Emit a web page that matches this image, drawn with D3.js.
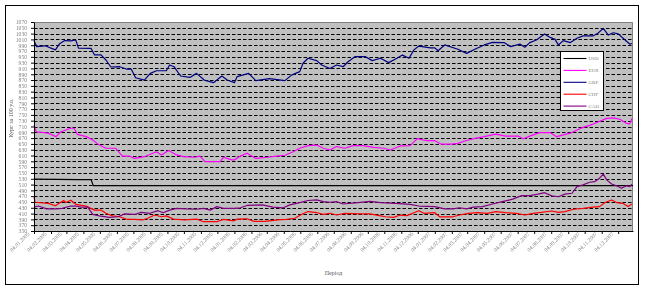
<!DOCTYPE html>
<html>
<head>
<meta charset="utf-8">
<script src="https://cdn.jsdelivr.net/npm/d3@7"></script>
<style>
  body { margin: 0; background: #fff; }
  text { font-family: "Liberation Serif", "Times New Roman", serif; }
  .gray-text { opacity: 0.99; }
</style>
</head>
<body>
<svg id="chart" width="645" height="290"></svg>
<script>
// Rates per 100 units (date, value)
const usd = [
  ["2005-01-04", 529], ["2005-03-25", 527], ["2005-04-18", 527], ["2005-04-22", 506],
  ["2007-12-31", 506]
];
const eur = [
  ["2005-01-04", 714], ["2005-01-08", 692], ["2005-01-30", 687], ["2005-02-13", 675], ["2005-02-22", 692],
  ["2005-03-12", 704], ["2005-03-18", 704], ["2005-03-24", 683], ["2005-04-09", 675], ["2005-04-21", 664],
  ["2005-04-30", 650], ["2005-05-15", 635], ["2005-06-02", 635], ["2005-06-14", 608], ["2005-06-27", 608],
  ["2005-07-06", 600], ["2005-07-24", 606], ["2005-08-15", 623], ["2005-08-24", 612], ["2005-09-06", 627],
  ["2005-09-21", 612], ["2005-10-03", 606], ["2005-10-24", 604], ["2005-11-02", 608], ["2005-11-12", 589],
  ["2005-12-09", 589], ["2005-12-15", 604], ["2005-12-30", 595],
  ["2006-01-04", 595], ["2006-01-15", 608], ["2006-01-27", 618], ["2006-02-12", 600], ["2006-03-06", 604],
  ["2006-03-21", 608], ["2006-04-06", 611], ["2006-04-21", 623], ["2006-05-03", 635], ["2006-05-18", 644],
  ["2006-06-03", 646], ["2006-06-15", 635], ["2006-06-27", 629], ["2006-07-09", 641], ["2006-07-24", 635],
  ["2006-08-08", 644], ["2006-08-26", 644], ["2006-09-15", 638], ["2006-10-03", 635], ["2006-10-15", 629],
  ["2006-11-02", 643], ["2006-11-20", 644], ["2006-12-03", 668], ["2006-12-21", 661],
  ["2007-01-04", 661], ["2007-01-16", 649], ["2007-02-03", 649], ["2007-02-15", 652], ["2007-03-01", 661],
  ["2007-03-18", 669], ["2007-04-04", 675], ["2007-04-25", 684], ["2007-05-13", 677], ["2007-06-05", 677],
  ["2007-06-14", 668], ["2007-06-26", 677], ["2007-07-14", 689], ["2007-08-02", 689], ["2007-08-14", 675],
  ["2007-08-26", 681], ["2007-09-08", 687], ["2007-09-20", 698], ["2007-10-01", 707], ["2007-10-13", 714],
  ["2007-10-25", 723], ["2007-11-13", 738], ["2007-11-25", 740], ["2007-12-07", 735], ["2007-12-19", 721],
  ["2007-12-25", 719], ["2007-12-29", 738]
];
const gbp = [
  ["2005-01-04", 1005], ["2005-01-09", 985], ["2005-01-24", 988], ["2005-02-12", 974], ["2005-02-19", 994],
  ["2005-03-01", 1006], ["2005-03-12", 1005], ["2005-03-21", 1008], ["2005-03-26", 980], ["2005-04-18", 979],
  ["2005-04-24", 957], ["2005-05-06", 957], ["2005-05-15", 939], ["2005-05-24", 915], ["2005-06-09", 916],
  ["2005-06-21", 908], ["2005-06-30", 908], ["2005-07-08", 878], ["2005-07-24", 870], ["2005-08-04", 893],
  ["2005-08-15", 902], ["2005-09-02", 902], ["2005-09-08", 922], ["2005-09-16", 916], ["2005-09-28", 884],
  ["2005-10-15", 879], ["2005-10-27", 893], ["2005-11-10", 870], ["2005-11-27", 861], ["2005-12-12", 884],
  ["2005-12-22", 870], ["2006-01-04", 861],
  ["2006-01-09", 882], ["2006-01-30", 893], ["2006-02-12", 868], ["2006-03-09", 875], ["2006-04-06", 868],
  ["2006-04-18", 887], ["2006-05-03", 899], ["2006-05-09", 928], ["2006-05-18", 945], ["2006-06-03", 937],
  ["2006-06-12", 922], ["2006-06-27", 910], ["2006-07-09", 922], ["2006-07-21", 916], ["2006-07-30", 933],
  ["2006-08-12", 951], ["2006-08-30", 951], ["2006-09-12", 937], ["2006-09-27", 945], ["2006-10-12", 930],
  ["2006-10-27", 945], ["2006-11-06", 956], ["2006-11-18", 945], ["2006-11-27", 974], ["2006-12-06", 987],
  ["2006-12-27", 981],
  ["2007-01-04", 981], ["2007-01-10", 971], ["2007-01-22", 991], ["2007-02-15", 976], ["2007-03-03", 962],
  ["2007-03-18", 976], ["2007-04-04", 991], ["2007-04-19", 1000], ["2007-05-10", 999], ["2007-05-22", 985],
  ["2007-06-08", 994], ["2007-06-17", 983], ["2007-06-26", 999], ["2007-07-08", 1008], ["2007-07-23", 1029],
  ["2007-08-02", 1017], ["2007-08-11", 1010], ["2007-08-17", 991], ["2007-08-26", 1006], ["2007-09-08", 999],
  ["2007-09-20", 1014], ["2007-10-01", 1022], ["2007-10-19", 1022], ["2007-10-28", 1031], ["2007-11-07", 1048],
  ["2007-11-16", 1025], ["2007-11-25", 1033], ["2007-12-04", 1029], ["2007-12-13", 1014], ["2007-12-25", 994],
  ["2007-12-29", 996]
];
const chf = [
  ["2005-01-04", 466], ["2005-01-06", 449], ["2005-01-30", 445], ["2005-02-12", 437], ["2005-02-21", 448],
  ["2005-02-27", 455], ["2005-03-03", 448], ["2005-03-12", 456], ["2005-03-21", 442], ["2005-04-09", 436],
  ["2005-04-24", 422], ["2005-05-06", 422], ["2005-05-15", 411], ["2005-05-27", 402], ["2005-06-09", 399],
  ["2005-06-21", 391], ["2005-07-06", 390], ["2005-07-21", 388], ["2005-07-30", 394], ["2005-08-12", 405],
  ["2005-08-24", 399], ["2005-09-02", 402], ["2005-09-15", 391], ["2005-10-06", 388], ["2005-10-27", 391],
  ["2005-11-09", 382], ["2005-12-03", 382], ["2005-12-15", 390], ["2006-01-03", 385],
  ["2006-01-09", 391], ["2006-01-27", 392], ["2006-02-09", 383], ["2006-02-27", 383], ["2006-03-09", 385],
  ["2006-03-24", 388], ["2006-04-09", 390], ["2006-04-24", 394], ["2006-05-06", 407], ["2006-05-18", 417],
  ["2006-06-03", 413], ["2006-06-15", 407], ["2006-06-27", 411], ["2006-07-09", 405], ["2006-07-24", 411],
  ["2006-08-23", 409], ["2006-09-08", 409], ["2006-09-20", 405], ["2006-10-06", 399], ["2006-10-21", 397],
  ["2006-11-02", 405], ["2006-11-14", 403], ["2006-11-27", 413], ["2006-12-06", 420], ["2006-12-15", 411],
  ["2007-01-04", 413], ["2007-01-13", 399], ["2007-02-06", 399], ["2007-02-18", 405], ["2007-03-06", 411],
  ["2007-03-23", 413], ["2007-04-10", 411], ["2007-04-25", 417], ["2007-05-13", 413], ["2007-06-02", 411],
  ["2007-06-17", 405], ["2007-07-02", 411], ["2007-07-17", 414], ["2007-08-05", 419], ["2007-08-17", 414],
  ["2007-08-29", 417], ["2007-09-14", 425], ["2007-10-01", 428], ["2007-10-19", 432], ["2007-10-31", 434],
  ["2007-11-10", 448], ["2007-11-22", 457], ["2007-12-01", 448], ["2007-12-13", 445], ["2007-12-22", 434],
  ["2007-12-29", 443]
];
const cad = [
  ["2005-01-04", 432], ["2005-01-12", 436], ["2005-01-27", 426], ["2005-02-12", 426], ["2005-02-24", 428],
  ["2005-03-12", 436], ["2005-03-21", 436], ["2005-03-30", 432], ["2005-04-12", 432], ["2005-04-21", 407],
  ["2005-05-03", 402], ["2005-05-21", 397], ["2005-06-06", 399], ["2005-06-18", 409], ["2005-07-06", 407],
  ["2005-07-18", 414], ["2005-08-03", 411], ["2005-08-18", 420], ["2005-08-27", 413], ["2005-09-08", 422],
  ["2005-09-21", 428], ["2005-10-09", 426], ["2005-10-27", 425], ["2005-11-09", 428], ["2005-11-21", 422],
  ["2005-12-03", 434], ["2005-12-15", 428], ["2006-01-03", 428],
  ["2006-01-15", 430], ["2006-01-27", 438], ["2006-02-24", 440], ["2006-03-15", 432], ["2006-04-03", 430],
  ["2006-04-15", 440], ["2006-05-03", 448], ["2006-05-18", 455], ["2006-06-03", 457], ["2006-06-15", 451],
  ["2006-06-27", 449], ["2006-07-09", 451], ["2006-07-21", 443], ["2006-08-17", 448], ["2006-09-08", 452],
  ["2006-09-27", 448], ["2006-10-24", 445], ["2006-11-20", 442], ["2006-12-06", 436], ["2007-01-04", 434],
  ["2007-01-22", 426], ["2007-02-06", 426], ["2007-02-18", 430], ["2007-03-03", 426], ["2007-03-15", 432],
  ["2007-04-01", 434], ["2007-04-19", 443], ["2007-05-07", 451], ["2007-05-26", 460], ["2007-06-11", 472],
  ["2007-06-26", 472], ["2007-07-11", 477], ["2007-07-23", 482], ["2007-08-05", 471], ["2007-08-17", 468],
  ["2007-08-29", 477], ["2007-09-11", 480], ["2007-09-20", 503], ["2007-10-01", 509], ["2007-10-13", 518],
  ["2007-10-22", 520], ["2007-10-31", 532], ["2007-11-07", 546], ["2007-11-13", 526], ["2007-11-22", 512],
  ["2007-12-01", 506], ["2007-12-10", 497], ["2007-12-19", 506], ["2007-12-25", 503], ["2007-12-29", 511]
];

const seriesNames = ["USD", "EUR", "GBP", "CHF", "CAD"];
const seriesData = [usd, eur, gbp, chf, cad];
const seriesColors = ["#000000", "#ff00ff", "#000080", "#ff0000", "#800080"];
const xDomain = ["2005-01-04", "2007-12-31"];
const yMin = 350, yMax = 1070, yStep = 20;
const xTitle = "Період";
const yTitle = "Курс за 100 у.о.";

const parse = d3.utcParse("%Y-%m-%d");
const fmt = d3.utcFormat("%d.%m.%Y");

const svg = d3.select("#chart");
const margin = { top: 22, right: 12, bottom: 59, left: 34 };
const width = 645 - margin.left - margin.right;
const height = 290 - margin.top - margin.bottom;

// outer chart frame
svg.append("rect")
  .attr("x", 5.5).attr("y", 5.5)
  .attr("width", 633).attr("height", 279)
  .attr("fill", "#fff").attr("stroke", "#000").attr("stroke-width", 1);

const g = svg.append("g")
  .attr("transform", `translate(${margin.left},${margin.top})`);

const x = d3.scaleUtc()
  .domain(xDomain.map(parse))
  .range([0, width]);

const y = d3.scaleLinear()
  .domain([yMin, yMax])
  .range([height, 0]);

const yTicks = d3.range(yMin, yMax + 1, yStep);
// monthly ticks on the 4th of each month
const xTicks = d3.utcMonth.range(d3.utcMonth.floor(x.domain()[0]), x.domain()[1])
  .map(m => d3.utcDay.offset(m, 3));

// plot area
g.append("rect")
  .attr("width", width).attr("height", height)
  .attr("fill", "#c0c0c0");

// dashed gridlines
g.append("g")
  .selectAll("line")
  .data(yTicks.slice(1, -1))
  .enter().append("line")
  .attr("x1", 0).attr("x2", width)
  .attr("y1", d => Math.round(y(d)) + 0.5)
  .attr("y2", d => Math.round(y(d)) + 0.5)
  .attr("stroke", "#000")
  .attr("stroke-width", 1)
  .attr("stroke-dasharray", "3.5,2");

// plot border (top/right)
g.append("path")
  .attr("d", `M0,0.5H${width - 0.5}V${height}`)
  .attr("fill", "none")
  .attr("stroke", "#808080")
  .attr("stroke-width", 1);

// series lines
const line = d3.line()
  .x(d => x(parse(d[0])))
  .y(d => y(d[1]));

seriesData.forEach((data, i) => {
  g.append("path")
    .datum(data)
    .attr("fill", "none")
    .attr("stroke", seriesColors[i])
    .attr("stroke-width", 1.2)
    .attr("stroke-linejoin", "round")
    .attr("d", line);
});

// axes
const xAxis = d3.axisBottom(x)
  .tickValues(xTicks)
  .tickFormat(fmt)
  .tickSizeInner(3).tickSizeOuter(0);

const yAxis = d3.axisLeft(y)
  .tickValues(yTicks)
  .tickFormat(d3.format("d"))
  .tickSizeInner(3).tickSizeOuter(0);

const gx = g.append("g")
  .attr("class", "gray-text")
  .attr("transform", `translate(0,${height})`)
  .call(xAxis);

gx.selectAll("text")
  .attr("font-size", "5.6px")
  .attr("fill", "#808080")
  .attr("text-anchor", "end")
  .attr("dy", "0.35em")
  .attr("transform", "translate(-6,2) rotate(-45)")
  .attr("x", 0).attr("y", 0);

const gy = g.append("g").attr("class", "gray-text").call(yAxis);
gy.selectAll("text")
  .attr("font-size", "5.6px")
  .attr("fill", "#808080")
  .attr("x", -7);

g.selectAll(".domain").attr("stroke", "#000");
g.selectAll(".tick line").attr("stroke", "#000");

// axis titles
svg.append("text")
  .attr("x", margin.left + width / 2)
  .attr("y", 275)
  .attr("text-anchor", "middle")
  .attr("font-size", "6px")
  .attr("fill", "#555")
  .text(xTitle);

svg.append("text")
  .attr("class", "gray-text")
  .attr("transform", "translate(13,118) rotate(-90)")
  .attr("text-anchor", "middle")
  .attr("font-size", "6px")
  .attr("fill", "#555")
  .text(yTitle);

// legend
const legend = svg.append("g").attr("transform", "translate(560.5,51.5)");
legend.append("rect")
  .attr("width", 43).attr("height", 59)
  .attr("fill", "#fff").attr("stroke", "#000").attr("stroke-width", 1);

const items = legend.selectAll(".item")
  .data(seriesNames)
  .enter().append("g")
  .attr("transform", (d, i) => `translate(0,${7 + i * 11.9})`);

items.append("line")
  .attr("x1", 3).attr("x2", 26)
  .attr("stroke", (d, i) => seriesColors[i])
  .attr("stroke-width", 1.1);

items.append("text")
  .attr("x", 28).attr("dy", "0.35em")
  .attr("font-size", "5px")
  .attr("fill", "#808080")
  .text(d => d);
</script>
</body>
</html>
